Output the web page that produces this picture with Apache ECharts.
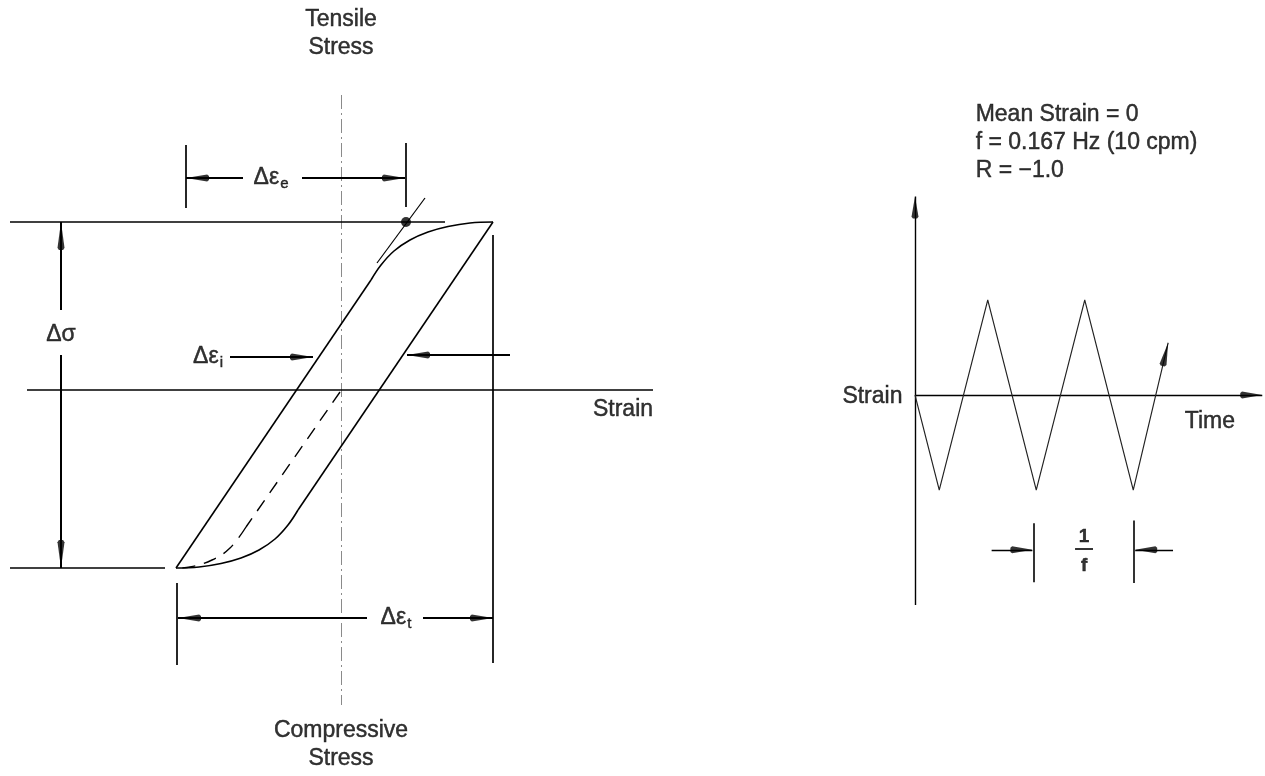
<!DOCTYPE html>
<html><head><meta charset="utf-8">
<script src="https://cdn.jsdelivr.net/npm/echarts@6/dist/echarts.min.js"></script>
<style>html,body{margin:0;padding:0;background:#fff}#c{width:1265px;height:776px}</style>
</head><body><div id="c"></div>
<script>
// ===== Left diagram: hysteresis loop (x = strain, y = stress, arbitrary units) =====
const loopLoadingElastic   = [[-1.65,-1.78],[0.30,1.10]];
const loopLoadingPlastic   = [[0.30,1.10],[0.40,1.25],[0.53,1.39],[0.69,1.50],[0.87,1.58],[1.07,1.635],[1.29,1.67],[1.52,1.68]];
const loopUnloadingElastic = [[1.52,1.68],[-0.43,-1.20]];
const loopUnloadingPlastic = [[-0.43,-1.20],[-0.53,-1.35],[-0.66,-1.49],[-0.82,-1.60],[-1.00,-1.68],[-1.20,-1.735],[-1.42,-1.77],[-1.65,-1.78]];
const initialElastic = [[-0.01,-0.02],[-0.95,-1.37]];
const initialPlastic = [[-0.95,-1.37],[-1.11,-1.58],[-1.29,-1.70],[-1.51,-1.77],[-1.63,-1.78]];
const elasticExtension = [[0.36,1.27],[0.84,1.92]];
const elasticLimitPoint = [0.65,1.68];

const leftGuides = [
  [[-3.31,1.68],[1.04,1.68]],
  [[-3.31,-1.78],[-1.76,-1.78]],
  [[-3.14,0],[3.12,0]],
  [[1.52,1.55],[1.52,-2.73]],
  [[-1.64,-1.93],[-1.64,-2.75]],
  [[-1.55,2.45],[-1.55,1.82]],
  [[0.65,2.47],[0.65,1.83]]
];
const stressAxis = [[0,2.95],[0,-3.15]];
// dimension arrows: [tail, tip]
const leftArrows = [
  [[-0.98,2.12],[-1.55,2.12]],
  [[-0.39,2.12],[0.64,2.12]],
  [[-1.11,0.33],[-0.28,0.33]],
  [[1.69,0.35],[0.66,0.35]],
  [[0.26,-2.28],[-1.63,-2.28]],
  [[0.82,-2.28],[1.52,-2.28]]
];
const stressArrows = [
  [[-2.80,0.80],[-2.80,1.68]],
  [[-2.80,0.35],[-2.80,-1.78]]
];
const leftTexts = [
  ['Tensile\nStress', [0,3.565]],
  ['Compressive\nStress', [0,-3.55]],
  ['Strain', [2.82,-0.20]],
  ['{m|Δσ}', [-2.80,0.55]],
  ['{m|Δε}{s|e}', [-0.70,2.12]],
  ['{m|Δε}{s|i}', [-1.33,0.33]],
  ['{m|Δε}{s|t}', [0.55,-2.28]]
];

// ===== Right diagram: strain vs time (x = time in cycles, y = strain amplitude) =====
const waveTime   = [0, 0.25, 0.75, 1.25, 1.75, 2.25, 2.61];
const waveStrain = [0, -1, 1, -1, 1, -1, 0.55];
const rightGuides = [
  [[1.22,-1.35],[1.22,-1.97]],
  [[2.26,-1.32],[2.26,-1.98]],
  [[1.65,-1.62],[1.835,-1.62]]
];
const rightArrows = [
  [[0,-2.21],[0,2.09]],
  [[0,0],[3.58,0]],
  [[0.79,-1.63],[1.21,-1.63]],
  [[2.66,-1.63],[2.27,-1.63]]
];
const rightTexts = [
  ['Mean Strain = 0\nf = 0.167 Hz (10 cpm)\nR = \u22121.0', [0.62,2.66], 'right'],
  ['Strain', [-0.124,-0.02], 'left'],
  ['Time', [3.04,-0.284], 'inside']
];
const fractionTexts = [['1', [1.743,-1.49]], ['f', [1.743,-1.80]]];

// ----- axis ranges (chosen so both diagrams sit where they do on the page) -----
const W = 1265, H = 776;
const L = {xmin:-3.41, xmax:9.24, ymin:-3.86, ymax:3.90};
const R = {xmin:-915/97, xmax:350/97, ymin:-381/95, ymax:395/95};
const pxScale = (r) => [W/(r.xmax-r.xmin), H/(r.ymax-r.ymin)];

const FONT = "'Liberation Sans', Arial, Helvetica, sans-serif";
const INK = '#000';
const HEAD = 'path://M0,0 L1,0.92 L0.6,1 L-0.6,1 L-1,0.92 Z M0,-1';

function heads(arrows, r, len, wid) {
  const [sx, sy] = pxScale(r);
  return arrows.map(([a, b]) => {
    const dx = (b[0]-a[0])*sx, dy = (b[1]-a[1])*sy;
    return {value: b, symbolRotate: -Math.atan2(dx, dy)*180/Math.PI, symbolSize: [wid, 2*len]};
  });
}
function segs(list) { return list.map(s => ({coords: s})); }
function lineSeries(data, gi, extra) {
  return Object.assign({type:'line', xAxisIndex:gi, yAxisIndex:gi, data, showSymbol:false, symbol:'none',
    silent:true, lineStyle:{color:INK, width:1.6}, z:3}, extra||{});
}
const TXT = {color:INK, textBorderColor:INK, textBorderWidth:0.45};
function textSeries(items, gi, extra) {
  return {type:'scatter', xAxisIndex:gi, yAxisIndex:gi, silent:true, symbolSize:1,
    itemStyle:{color:'rgba(0,0,0,0)'}, z:10,
    data: items.map(([t, p, pos]) => ({value:p, label:{show:true, formatter:t, position: pos||'inside', distance:0,
      align: pos==='right'?'left':(pos==='left'?'right':'center')}})),
    label: Object.assign({show:true, fontFamily:FONT, fontSize:23, lineHeight:28,
      rich:{m:Object.assign({fontFamily:FONT, fontSize:23, lineHeight:26}, TXT),
            s:Object.assign({fontFamily:FONT, fontSize:15, lineHeight:10, verticalAlign:'bottom', padding:[0,0,0,1]}, TXT)}}, TXT, extra||{})};
}
function linesSeries(list, gi, style, z) {
  return {type:'lines', coordinateSystem:'cartesian2d', xAxisIndex:gi, yAxisIndex:gi, silent:true,
    data:segs(list), lineStyle:Object.assign({color:INK, opacity:1}, style), z:z||2};
}

const option = {
  animation:false,
  backgroundColor:'#fff',
  grid:[{left:0,top:0,width:W,height:H},{left:0,top:0,width:W,height:H}],
  xAxis:[{type:'value',gridIndex:0,min:L.xmin,max:L.xmax,show:false},
         {type:'value',gridIndex:1,min:R.xmin,max:R.xmax,show:false}],
  yAxis:[{type:'value',gridIndex:0,min:L.ymin,max:L.ymax,show:false},
         {type:'value',gridIndex:1,min:R.ymin,max:R.ymax,show:false}],
  series:[
    // left diagram
    linesSeries(leftGuides, 0, {width:1.7}),
    linesSeries(leftArrows.concat(stressArrows), 0, {width:2}),
    linesSeries([stressAxis], 0, {color:'#8a8a8a', width:1, type:[14,4,2,4]}, 1),
    lineSeries(loopLoadingElastic, 0),
    lineSeries(loopLoadingPlastic, 0, {smooth:0.4}),
    lineSeries(loopUnloadingElastic, 0),
    lineSeries(loopUnloadingPlastic, 0, {smooth:0.4}),
    lineSeries(initialElastic, 0, {lineStyle:{color:INK, width:1.4, type:[13,9]}}),
    lineSeries(initialPlastic, 0, {smooth:0.4, lineStyle:{color:INK, width:1.4, type:[13,9]}}),
    lineSeries(elasticExtension, 0, {lineStyle:{color:INK, width:1.2}}),
    {type:'scatter', xAxisIndex:0, yAxisIndex:0, silent:true, data:[elasticLimitPoint],
      symbol:'circle', symbolSize:10, itemStyle:{color:INK}, z:5},
    {type:'scatter', xAxisIndex:0, yAxisIndex:0, silent:true,
      data:heads(leftArrows, L, 23, 7).concat(heads(stressArrows, L, 28, 7)),
      symbol:HEAD, itemStyle:{color:INK}, z:6},
    textSeries(leftTexts, 0),
    // right diagram
    lineSeries(waveTime.map((t,i)=>[t, waveStrain[i]]), 1, {lineStyle:{color:'#222', width:1.1}}),
    linesSeries(rightGuides, 1, {width:1.6}),
    linesSeries(rightArrows, 1, {width:1.4}),
    {type:'scatter', xAxisIndex:1, yAxisIndex:1, silent:true,
      data:heads(rightArrows, R, 22, 7).concat(heads([[[waveTime[5],waveStrain[5]],[waveTime[6],waveStrain[6]]]], R, 24, 7)),
      symbol:HEAD, itemStyle:{color:INK}, z:6},
    textSeries(rightTexts, 1),
    textSeries(fractionTexts, 1, {fontWeight:'bold', fontSize:19})
  ]
};
const chart = echarts.init(document.getElementById('c'), null, {renderer:'canvas'});
chart.setOption(option);
</script></body></html>
